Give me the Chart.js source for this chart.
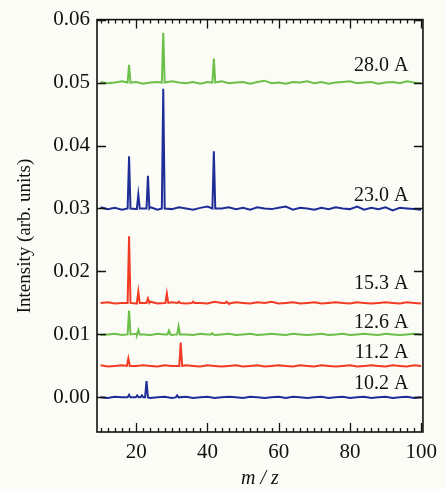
<!DOCTYPE html>
<html lang="en">
<head>
<meta charset="UTF-8">
<title>Mass spectra vs. current</title>
<style>
    html, body {
        margin: 0;
        padding: 0;
        background: #fcfcf7;
    }
</style>
</head>
<body>
<canvas id="ms" width="445" height="489"></canvas>

<script src="https://cdn.jsdelivr.net/npm/chart.js"></script>
<script>
    // m/z sampling of the baseline traces
    const mzGrid = [10, 12, 14, 16, 18, 20, 22, 24, 26, 28,
                    30, 32, 34, 36, 38, 40, 42, 44, 46, 48,
                    50, 52, 54, 56, 58, 60, 62, 64, 66, 68,
                    70, 72, 74, 76, 78, 80, 82, 84, 86, 88,
                    90, 92, 94, 96, 98, 100];

    const seriesNames = ['28.0 A', '23.0 A', '15.3 A', '12.6 A', '11.2 A', '10.2 A'];
    const baselines = [0.050, 0.030, 0.015, 0.010, 0.005, 0.000];

    // baseline noise, in units of 1e-4 around each baseline
    const noise28 = [1, -1, 0, 2, -1, 1, -2, 0, 1, -1,
                     2, 0, -1, 1, -2, 1, 0, 2, -1, 0,
                     1, -2, 1, 3, -1, 0, -2, 1, 0, 2,
                     -1, 1, -2, 0, 1, 2, -1, 0, 1, -2,
                     0, 1, -1, 2, 0, -1];
    const noise23 = [2, -1, 1, -2, 3, -1, 0, 2, -2, 1,
                     -1, 2, 0, -2, 1, 3, -1, 0, 2, -1,
                     1, -2, 2, 0, -1, 1, 3, -2, 1, 0,
                     -2, 1, -1, 2, 0, -1, 3, -2, 1, -1,
                     2, -3, 1, 0, -1, -2];
    const noise153 = [0, 1, -1, 0, 1, -1, 0, 2, -1, 0,
                      1, 0, -1, 1, 0, -1, 2, 0, -1, 1,
                      0, -1, 1, 0, 2, -1, 0, 1, -1, 0,
                      1, -1, 0, 1, 0, -1, 1, 0, -1, 0,
                      1, 0, -1, 1, 0, -1];
    const noise126 = [-1, 0, 1, -1, 0, 1, 0, -1, 1, 0,
                      -1, 1, 0, -1, 1, 0, -1, 0, 1, -1,
                      0, 1, -1, 0, 1, 0, -1, 1, 0, -1,
                      0, 1, -1, 0, 1, -1, 0, 1, 0, -1,
                      1, 0, -1, 0, 1, 0];
    const noise112 = [1, -1, 0, 1, -1, 0, 1, 0, -1, 1,
                      0, -1, 1, 0, -1, 1, 0, -1, 0, 1,
                      -1, 0, 1, -1, 0, 1, 0, -1, 1, 0,
                      -1, 1, 0, -1, 0, 1, -1, 0, 1, 0,
                      -1, 1, 0, -1, 1, 0];
    const noise102 = [0, -1, 1, 0, -1, 1, 0, -1, 0, 1,
                      -1, 0, 1, -1, 0, 1, -1, 0, 1, 0,
                      -1, 1, 0, -1, 0, 1, -1, 1, 0, -1,
                      0, 1, -1, 0, 1, -1, 0, 1, -1, 0,
                      1, -1, 0, 1, -1, 0];

    // peaks: position (m/z) and top intensity
    const peakMz28 = [18, 27.6, 41.8];
    const peakTop28 = [0.0528, 0.0579, 0.0538];
    const peakMz23 = [18, 20.6, 23.3, 27.6, 41.8];
    const peakTop23 = [0.0383, 0.0322, 0.0352, 0.0490, 0.0391];
    const peakMz153 = [18, 20.6, 23.3, 28.6, 32, 36, 45.4];
    const peakTop153 = [0.0256, 0.0168, 0.0157, 0.0165, 0.0152, 0.0152, 0.0152];
    const peakMz126 = [18, 20.6, 29.2, 31.9, 41.3];
    const peakTop126 = [0.0138, 0.0107, 0.0106, 0.0113, 0.0102];
    const peakMz112 = [17.8, 32.5];
    const peakTop112 = [0.0062, 0.0087];
    const peakMz102 = [18, 20.3, 21.6, 22.9, 31.5];
    const peakTop102 = [0.0004, 0.0003, 0.0003, 0.0026, 0.0003];

    const xTicks = [20, 40, 60, 80, 100];
    const yTicks = [0.00, 0.01, 0.02, 0.03, 0.04, 0.05, 0.06];

    const colors = ['#6cc04a', '#1f2d98', '#f23b24', '#6cc04a', '#f23b24', '#1f2d98'];
    const serif = '"Liberation Serif", "DejaVu Serif", serif';
    const peakHalf = 0.4;

    function buildSeries(base, noise, pkMz, pkTop) {
        const pts = [];
        mzGrid.forEach((m, i) => {
            if (pkMz.some(p => Math.abs(p - m) < 0.6)) return;
            pts.push({x: m, y: base + noise[i] * 1e-4});
        });
        pkMz.forEach((m, i) => {
            pts.push({x: m - peakHalf, y: base});
            pts.push({x: m, y: pkTop[i]});
            pts.push({x: m + peakHalf, y: base});
        });
        return pts.sort((a, b) => a.x - b.x);
    }

    const traces = [
        buildSeries(baselines[0], noise28, peakMz28, peakTop28),
        buildSeries(baselines[1], noise23, peakMz23, peakTop23),
        buildSeries(baselines[2], noise153, peakMz153, peakTop153),
        buildSeries(baselines[3], noise126, peakMz126, peakTop126),
        buildSeries(baselines[4], noise112, peakMz112, peakTop112),
        buildSeries(baselines[5], noise102, peakMz102, peakTop102)
    ];

    // frame with inward ticks, y title, and the current labels next to each trace
    const framePlugin = {
        id: 'frame',
        afterDraw(chart) {
            const {ctx, chartArea: a, scales: {x, y}} = chart;
            ctx.save();
            ctx.strokeStyle = '#111';
            ctx.lineWidth = 1.6;
            ctx.strokeRect(a.left, a.top, a.right - a.left, a.bottom - a.top);

            ctx.lineWidth = 1.3;
            ctx.beginPath();
            for (let v = 10; v <= 100; v += 2) {
                const px = Math.round(x.getPixelForValue(v)) + 0.5;
                const len = v % 20 === 0 ? 9 : 4;
                ctx.moveTo(px, a.bottom);
                ctx.lineTo(px, a.bottom - len);
                ctx.moveTo(px, a.top);
                ctx.lineTo(px, a.top + len);
            }
            yTicks.forEach(v => {
                const py = Math.round(y.getPixelForValue(v)) + 0.5;
                ctx.moveTo(a.left, py);
                ctx.lineTo(a.left + 9, py);
                ctx.moveTo(a.right, py);
                ctx.lineTo(a.right - 9, py);
            });
            ctx.stroke();

            ctx.fillStyle = '#111';
            ctx.textBaseline = 'middle';

            // y axis title, a bit below the plot centre as in the original
            ctx.save();
            ctx.translate(25, 236);
            ctx.rotate(-Math.PI / 2);
            ctx.textAlign = 'center';
            ctx.font = '19px ' + serif;
            ctx.fillText('Intensity (arb. units)', 0, 0);
            ctx.restore();

            const lift = [17, 13, 19, 12, 13, 14];
            ctx.font = '20px ' + serif;
            ctx.textAlign = 'right';
            seriesNames.forEach((name, i) => {
                ctx.fillText(name, x.getPixelForValue(96.4), y.getPixelForValue(baselines[i]) - lift[i]);
            });
            ctx.restore();
        }
    };

    new Chart(document.getElementById('ms'), {
        type: 'line',
        data: {
            datasets: traces.map((pts, i) => ({
                label: seriesNames[i],
                data: pts,
                borderColor: colors[i],
                borderWidth: 2,
                pointRadius: 0,
                tension: 0,
                fill: false
            }))
        },
        options: {
            responsive: false,
            animation: false,
            layout: {padding: {top: 15, right: 15, left: 0, bottom: 0}},
            plugins: {
                legend: {display: false},
                tooltip: {enabled: false}
            },
            scales: {
                x: {
                    type: 'linear',
                    min: 9,
                    max: 100.5,
                    grid: {display: false, drawTicks: false},
                    border: {display: false},
                    afterBuildTicks: s => { s.ticks = xTicks.map(v => ({value: v})); },
                    afterFit: s => { s.height = 57; },
                    ticks: {
                        color: '#111',
                        padding: 8,
                        maxRotation: 0,
                        font: {family: serif, size: 21}
                    },
                    title: {
                        display: true,
                        text: 'm / z',
                        color: '#111',
                        padding: 0,
                        font: {family: serif, size: 20, style: 'italic', lineHeight: 1}
                    }
                },
                y: {
                    type: 'linear',
                    min: -0.0055,
                    max: 0.06,
                    grid: {display: false, drawTicks: false},
                    border: {display: false},
                    afterBuildTicks: s => { s.ticks = yTicks.map(v => ({value: v})); },
                    afterFit: s => { s.width = 97; },
                    ticks: {
                        color: '#111',
                        padding: 7,
                        font: {family: serif, size: 21},
                        callback: v => v.toFixed(2)
                    }
                }
            }
        },
        plugins: [framePlugin]
    });
</script>
</body>
</html>
